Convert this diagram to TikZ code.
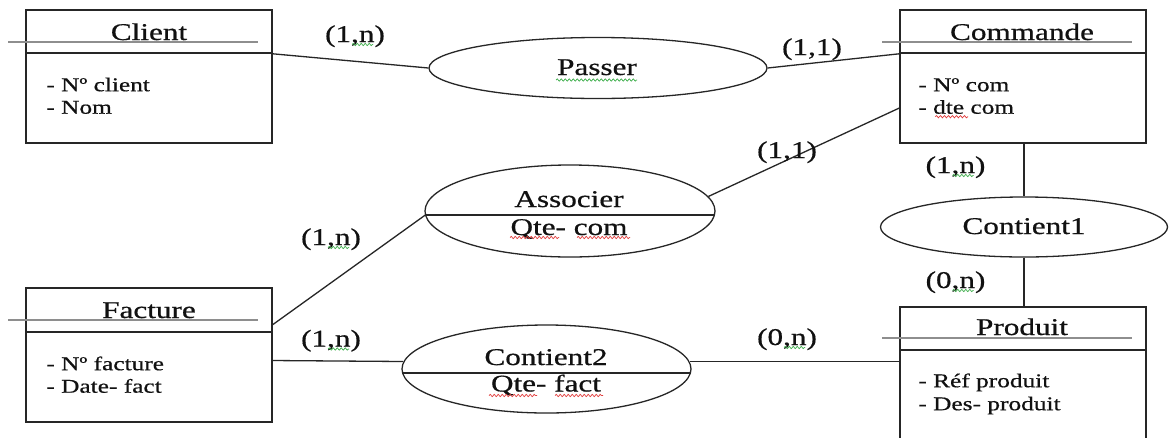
\documentclass[tikz,border=0pt]{standalone}
\usepackage{fontspec}
\setmainfont{Liberation Serif}[FakeStretch=1.3,FakeBold=0.6]
\usetikzlibrary{shapes.geometric,calc,decorations.pathmorphing}

\definecolor{inkc}{HTML}{262626}
\definecolor{txtc}{HTML}{111111}
\definecolor{rulec}{HTML}{8E8E8E}
\definecolor{spellr}{HTML}{E23B3B}
\definecolor{spellg}{HTML}{3DAE4A}

\tikzset{
  x=1pt, y=-1pt,
  bigtxt/.style={font=\fontsize{24}{28}\selectfont, text=txtc},
  ttl/.style={draw=inkc, line width=1.6pt, minimum width=246pt, minimum height=43pt,
              inner sep=0pt, bigtxt},
  body/.style={draw=inkc, line width=1.6pt, minimum width=246pt, inner sep=0pt},
  attr/.style={anchor=base west, inner sep=0pt, text=txtc,
               font=\fontsize{19.5}{22}\selectfont},
  rel/.style={ellipse, draw=inkc, line width=1.3pt, inner sep=0pt},
  reltxt/.style={anchor=base, inner sep=0pt, bigtxt},
  card/.style={anchor=base, inner sep=0pt, bigtxt},
  link/.style={draw=inkc, line width=1.3pt},
  guide/.style={draw=rulec, line width=1.1pt},
  squig/.style={line width=0.7pt, decorate,
                decoration={snake, amplitude=1.1pt, segment length=4pt}},
}

\begin{document}
\begin{tikzpicture}
\clip (0,0) rectangle (1172,437);
\fill[white] (0,0) rectangle (1172,437);

% ---------- entities ----------
\node[ttl] (clientT) at (149,31.5) {};
\node[body, minimum height=90pt] (clientB) at (149,98) {};
\node[ttl] (cmdT) at (1023,31.5) {};
\node[body, minimum height=90pt] (cmdB) at (1023,98) {};
\node[ttl, minimum height=44pt] (factT) at (149,310) {};
\node[body, minimum height=90pt] (factB) at (149,377) {};
\node[ttl] (prodT) at (1023,328.5) {};
\node[body, minimum height=110pt] (prodB) at (1023,405) {};

% guide rules through the title bands
\draw[guide] ($(clientT.west)+(-17,10.5)$) -- ($(clientT.east)+(-15,10.5)$);
\draw[guide] ($(cmdT.west)+(-17,10.5)$) -- ($(cmdT.east)+(-15,10.5)$);
\draw[guide] ($(factT.west)+(-17,10)$) -- ($(factT.east)+(-15,10)$);
\draw[guide] ($(prodT.west)+(-17,9.5)$) -- ($(prodT.east)+(-15,9.5)$);

% entity titles
\node[reltxt] (clientN) at (149,40) {Client};
\node[reltxt] (cmdN) at (1022,40) {Commande};
\node[reltxt] (factN) at (149,318) {Facture};
\node[reltxt] (prodN) at (1022,335) {Produit};

% attributes
\node[attr] (clientA1) at ($(clientB.north west)+(21,39)$) {- Nº client};
\node[attr] (clientA2) at ($(clientB.north west)+(21,61.5)$) {- Nom};
\node[attr] (cmdA1) at ($(cmdB.north west)+(19,39)$) {- Nº com};
\node[attr] (cmdA2) at ($(cmdB.north west)+(19,61.5)$) {- dte com};
\node[attr] (factA1) at ($(factB.north west)+(21,39)$) {- Nº facture};
\node[attr] (factA2) at ($(factB.north west)+(21,61.5)$) {- Date- fact};
\node[attr] (prodA1) at ($(prodB.north west)+(19,38)$) {- Réf produit};
\node[attr] (prodA2) at ($(prodB.north west)+(19,61)$) {- Des- produit};

% ---------- associations ----------
\node[rel, minimum width=338pt, minimum height=61pt] (passer) at (598,68) {};
\node[reltxt] (passerN) at (597,75) {Passer};

\node[rel, minimum width=290pt, minimum height=92pt] (assoc) at (570,211) {};
\coordinate (assocL) at ($(assoc.west)+(1,4)$);
\coordinate (assocR) at ($(assoc.east)+(-1,4)$);
\draw[link] (assocL) -- (assocR);
\node[reltxt] (assocN) at (569,207) {Associer};
\node[reltxt] (assocA) at (569,235) {Qte- com};

\node[rel, minimum width=287pt, minimum height=60pt] (cont1) at (1024,227) {};
\node[reltxt] (cont1N) at (1024,234) {Contient1};

\node[rel, minimum width=289pt, minimum height=88pt] (cont2) at (546.5,369) {};
\coordinate (cont2L) at ($(cont2.west)+(1,4)$);
\coordinate (cont2R) at ($(cont2.east)+(-1,4)$);
\draw[link] (cont2L) -- (cont2R);
\node[reltxt] (cont2N) at (546,365) {Contient2};
\node[reltxt] (cont2A) at (546,391.5) {Qte- fact};

% ---------- connectors ----------
\draw[link] (clientT.south east) -- (passer.west);
\draw[link] (passer.east) -- (cmdT.south west);
\draw[link] (assoc.6) -- ($(cmdB.north west)!0.61!(cmdB.south west)$);
\draw[link] ($(factT.north east)!0.82!(factT.south east)$) -- (assocL);
\draw[link] ($(factB.north east)!0.32!(factB.south east)$) -- (cont2.177);
\draw[link] (cont2.3) -- (cont2.3 -| prodB.west);
\draw[link] (cont1.north |- cmdB.south) -- (cont1.north);
\draw[link] (cont1.south) -- (cont1.south |- prodT.north);

% ---------- cardinalities ----------
\node[card] (c1) at (355,42) {(1,n)};
\node[card] (c2) at (812,55) {(1,1)};
\node[card] (c3) at (787,158) {(1,1)};
\node[card] (c4) at (955.5,173) {(1,n)};
\node[card] (c5) at (955.5,288) {(0,n)};
\node[card] (c6) at (331,245) {(1,n)};
\node[card] (c7) at (331,346.5) {(1,n)};
\node[card] (c8) at (787,345) {(0,n)};

% ---------- spelling marks under words ----------
\foreach \c in {c1,c4,c5,c6,c7,c8}
  \draw[squig, spellg] ($(\c.base)+(-3,2.5)$) -- ($(\c.base)+(18,2.5)$);
\draw[squig, spellg] ($(passerN.base)+(-41,5)$) -- ($(passerN.base)+(40,5)$);
\draw[squig, spellr] ($(cmdA2.base west)+(17,3)$) -- ($(cmdA2.base west)+(50,3)$);
\draw[squig, spellr] ($(assocA.base)+(-59,2.5)$) -- ($(assocA.base)+(-10,2.5)$);
\draw[squig, spellr] ($(assocA.base)+(8,2.5)$) -- ($(assocA.base)+(61,2.5)$);
\draw[squig, spellr] ($(cont2A.base)+(-57,4)$) -- ($(cont2A.base)+(-9,4)$);
\draw[squig, spellr] ($(cont2A.base)+(9,4)$) -- ($(cont2A.base)+(57,4)$);

\end{tikzpicture}
\end{document}
